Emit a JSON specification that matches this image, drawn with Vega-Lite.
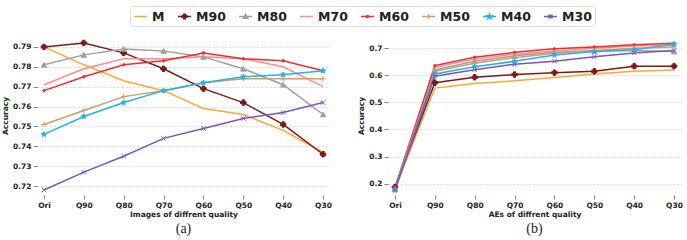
{
  "$schema": "https://vega.github.io/schema/vega-lite/v6.json",
  "padding": {"left": 1, "top": 5, "right": 2, "bottom": 2},
  "spacing": 25,
  "datasets": {
    "imgs": [
      {"q":"Ori","m":"M","acc":0.790},{"q":"Q90","m":"M","acc":0.781},{"q":"Q80","m":"M","acc":0.773},{"q":"Q70","m":"M","acc":0.768},{"q":"Q60","m":"M","acc":0.759},{"q":"Q50","m":"M","acc":0.756},{"q":"Q40","m":"M","acc":0.748},{"q":"Q30","m":"M","acc":0.737},
      {"q":"Ori","m":"M90","acc":0.790},{"q":"Q90","m":"M90","acc":0.792},{"q":"Q80","m":"M90","acc":0.787},{"q":"Q70","m":"M90","acc":0.779},{"q":"Q60","m":"M90","acc":0.769},{"q":"Q50","m":"M90","acc":0.762},{"q":"Q40","m":"M90","acc":0.751},{"q":"Q30","m":"M90","acc":0.736},
      {"q":"Ori","m":"M80","acc":0.781},{"q":"Q90","m":"M80","acc":0.786},{"q":"Q80","m":"M80","acc":0.789},{"q":"Q70","m":"M80","acc":0.788},{"q":"Q60","m":"M80","acc":0.785},{"q":"Q50","m":"M80","acc":0.779},{"q":"Q40","m":"M80","acc":0.771},{"q":"Q30","m":"M80","acc":0.756},
      {"q":"Ori","m":"M70","acc":0.771},{"q":"Q90","m":"M70","acc":0.779},{"q":"Q80","m":"M70","acc":0.784},{"q":"Q70","m":"M70","acc":0.784},{"q":"Q60","m":"M70","acc":0.785},{"q":"Q50","m":"M70","acc":0.784},{"q":"Q40","m":"M70","acc":0.780},{"q":"Q30","m":"M70","acc":0.770},
      {"q":"Ori","m":"M60","acc":0.768},{"q":"Q90","m":"M60","acc":0.775},{"q":"Q80","m":"M60","acc":0.781},{"q":"Q70","m":"M60","acc":0.783},{"q":"Q60","m":"M60","acc":0.787},{"q":"Q50","m":"M60","acc":0.784},{"q":"Q40","m":"M60","acc":0.783},{"q":"Q30","m":"M60","acc":0.778},
      {"q":"Ori","m":"M50","acc":0.751},{"q":"Q90","m":"M50","acc":0.758},{"q":"Q80","m":"M50","acc":0.765},{"q":"Q70","m":"M50","acc":0.768},{"q":"Q60","m":"M50","acc":0.772},{"q":"Q50","m":"M50","acc":0.774},{"q":"Q40","m":"M50","acc":0.774},{"q":"Q30","m":"M50","acc":0.774},
      {"q":"Ori","m":"M40","acc":0.746},{"q":"Q90","m":"M40","acc":0.755},{"q":"Q80","m":"M40","acc":0.762},{"q":"Q70","m":"M40","acc":0.768},{"q":"Q60","m":"M40","acc":0.772},{"q":"Q50","m":"M40","acc":0.775},{"q":"Q40","m":"M40","acc":0.776},{"q":"Q30","m":"M40","acc":0.778},
      {"q":"Ori","m":"M30","acc":0.718},{"q":"Q90","m":"M30","acc":0.727},{"q":"Q80","m":"M30","acc":0.735},{"q":"Q70","m":"M30","acc":0.744},{"q":"Q60","m":"M30","acc":0.749},{"q":"Q50","m":"M30","acc":0.754},{"q":"Q40","m":"M30","acc":0.757},{"q":"Q30","m":"M30","acc":0.762}
    ],
    "aes": [
      {"q":"Ori","m":"M","acc":0.180},{"q":"Q90","m":"M","acc":0.553},{"q":"Q80","m":"M","acc":0.570},{"q":"Q70","m":"M","acc":0.580},{"q":"Q60","m":"M","acc":0.592},{"q":"Q50","m":"M","acc":0.605},{"q":"Q40","m":"M","acc":0.615},{"q":"Q30","m":"M","acc":0.620},
      {"q":"Ori","m":"M90","acc":0.187},{"q":"Q90","m":"M90","acc":0.573},{"q":"Q80","m":"M90","acc":0.593},{"q":"Q70","m":"M90","acc":0.603},{"q":"Q60","m":"M90","acc":0.610},{"q":"Q50","m":"M90","acc":0.615},{"q":"Q40","m":"M90","acc":0.634},{"q":"Q30","m":"M90","acc":0.634},
      {"q":"Ori","m":"M80","acc":0.180},{"q":"Q90","m":"M80","acc":0.620},{"q":"Q80","m":"M80","acc":0.652},{"q":"Q70","m":"M80","acc":0.672},{"q":"Q60","m":"M80","acc":0.685},{"q":"Q50","m":"M80","acc":0.690},{"q":"Q40","m":"M80","acc":0.692},{"q":"Q30","m":"M80","acc":0.688},
      {"q":"Ori","m":"M70","acc":0.185},{"q":"Q90","m":"M70","acc":0.630},{"q":"Q80","m":"M70","acc":0.660},{"q":"Q70","m":"M70","acc":0.678},{"q":"Q60","m":"M70","acc":0.690},{"q":"Q50","m":"M70","acc":0.700},{"q":"Q40","m":"M70","acc":0.708},{"q":"Q30","m":"M70","acc":0.712},
      {"q":"Ori","m":"M60","acc":0.185},{"q":"Q90","m":"M60","acc":0.636},{"q":"Q80","m":"M60","acc":0.667},{"q":"Q70","m":"M60","acc":0.685},{"q":"Q60","m":"M60","acc":0.698},{"q":"Q50","m":"M60","acc":0.705},{"q":"Q40","m":"M60","acc":0.713},{"q":"Q30","m":"M60","acc":0.719},
      {"q":"Ori","m":"M50","acc":0.182},{"q":"Q90","m":"M50","acc":0.615},{"q":"Q80","m":"M50","acc":0.645},{"q":"Q70","m":"M50","acc":0.665},{"q":"Q60","m":"M50","acc":0.682},{"q":"Q50","m":"M50","acc":0.692},{"q":"Q40","m":"M50","acc":0.700},{"q":"Q30","m":"M50","acc":0.705},
      {"q":"Ori","m":"M40","acc":0.175},{"q":"Q90","m":"M40","acc":0.605},{"q":"Q80","m":"M40","acc":0.632},{"q":"Q70","m":"M40","acc":0.652},{"q":"Q60","m":"M40","acc":0.675},{"q":"Q50","m":"M40","acc":0.688},{"q":"Q40","m":"M40","acc":0.695},{"q":"Q30","m":"M40","acc":0.715},
      {"q":"Ori","m":"M30","acc":0.178},{"q":"Q90","m":"M30","acc":0.597},{"q":"Q80","m":"M30","acc":0.621},{"q":"Q70","m":"M30","acc":0.641},{"q":"Q60","m":"M30","acc":0.652},{"q":"Q50","m":"M30","acc":0.669},{"q":"Q40","m":"M30","acc":0.683},{"q":"Q30","m":"M30","acc":0.692}
    ]
  },
  "config": {
    "view": {"stroke": null},
    "axis": {
      "labelFont": "DejaVu Sans", "labelFontWeight": "bold", "labelFontSize": 7.5, "labelColor": "#222",
      "titleFont": "DejaVu Sans", "titleFontWeight": "bold", "titleFontSize": 7.5, "titleColor": "#222",
      "domain": false, "tickColor": "#666", "tickSize": 4, "tickWidth": 0.8, "labelPadding": 2,
      "gridColor": "#cfcfcf", "gridDash": [2, 2], "gridWidth": 0.8
    },
    "title": {"font": "Liberation Serif", "fontSize": 14, "fontWeight": "normal", "color": "#222"}
  },
  "hconcat": [
    {
      "width": 293, "height": 159,
      "data": {"name": "imgs"},
      "title": {"text": "(a)", "orient": "bottom", "frame": "group", "anchor": "middle", "offset": 4},
      "encoding": {
        "x": {"field": "q", "type": "ordinal", "sort": ["Ori","Q90","Q80","Q70","Q60","Q50","Q40","Q30"],
              "scale": {"padding": 0.175},
              "axis": {"title": "Images of diffrent quality", "labelAngle": 0, "titlePadding": 2}},
        "y": {"field": "acc", "type": "quantitative",
              "scale": {"domain": [0.7155, 0.7955], "nice": false, "zero": false},
              "axis": {"title": "Accuracy", "values": [0.72,0.73,0.74,0.75,0.76,0.77,0.78,0.79], "format": ".2f", "titlePadding": 3}}
      },
      "layer": [
        {
          "mark": {"type": "line", "strokeWidth": 1.5},
          "encoding": {
            "color": {"field": "m", "type": "nominal",
              "scale": {"domain": ["M","M90","M80","M70","M60","M50","M40","M30"],
                        "range": ["#FFA536","#7B1A1A","#A0A0A0","#FF8C8C","#F22B2B","#D49A6A","#1EB4EB","#7A55C0"]},
              "legend": {
                "title": null, "orient": "none", "direction": "horizontal", "legendX": 93, "legendY": -30,
                "labelFont": "DejaVu Sans", "labelFontWeight": "bold", "labelFontSize": 12.5, "labelColor": "#222",
                "symbolType": "stroke", "symbolSize": 169, "symbolStrokeWidth": 1.5, "labelOffset": 4,
                "columnPadding": 10, "padding": 3, "strokeColor": "#dddddd", "cornerRadius": 3, "fillColor": "white",
                "encode": {"symbols": {"update": {
                  "shape": {"signal": "datum.value==='M90'?'M-1,0H1M-0.35,-0.13H-0.13V-0.35H0.13V-0.13H0.35V0.13H0.13V0.35H-0.13V0.13H-0.35Z':datum.value==='M80'?'M-1,0H1M0,-0.35L0.35,0.28L-0.35,0.28Z':datum.value==='M60'?'M-1,0H1M-0.15,0A0.15,0.15,0,1,1,0.15,0A0.15,0.15,0,1,1,-0.15,0Z':datum.value==='M50'?'M-1,0H1M0,-0.35V0.35':datum.value==='M40'?'M-1,0H1M0,-0.35L0.082,-0.113L0.333,-0.108L0.133,0.043L0.206,0.283L0,0.14L-0.206,0.283L-0.133,0.043L-0.333,-0.108L-0.082,-0.113Z':datum.value==='M30'?'M-1,0H1M-0.3,-0.3L0.3,0.3M-0.3,0.3L0.3,-0.3':'M-1,0H1'"},
                  "fill": {"signal": "scale('color', datum.value)"}
                }}}
              }}
          }
        },
        {
          "transform": [{"filter": "datum.m !== 'M' && datum.m !== 'M70'"}],
          "mark": {"type": "point", "filled": true, "size": 30, "strokeWidth": 1, "opacity": 1},
          "encoding": {
            "shape": {"field": "m", "type": "nominal", "legend": null,
              "scale": {"domain": ["M90","M80","M60","M50","M40","M30"],
                        "range": ["cross","triangle-up","M-0.45,0A0.45,0.45,0,1,1,0.45,0A0.45,0.45,0,1,1,-0.45,0Z","M-1,0H1M0,-1V1","M0,-1L0.235,-0.324L0.951,-0.309L0.38,0.124L0.588,0.809L0,0.4L-0.588,0.809L-0.38,0.124L-0.951,-0.309L-0.235,-0.324Z","M-0.8,-0.8L0.8,0.8M-0.8,0.8L0.8,-0.8"]}},
            "fill": {"field": "m", "type": "nominal", "legend": null,
              "scale": {"domain": ["M","M90","M80","M70","M60","M50","M40","M30"],
                        "range": ["#FFA536","#7B1A1A","#A0A0A0","#FF8C8C","#F22B2B","#D49A6A","#1EB4EB","#7A55C0"]}},
            "stroke": {"field": "m", "type": "nominal", "legend": null,
              "scale": {"domain": ["M","M90","M80","M70","M60","M50","M40","M30"],
                        "range": ["#FFA536","#7B1A1A","#A0A0A0","#FF8C8C","#F22B2B","#D49A6A","#1EB4EB","#7A55C0"]}}
          }
        }
      ]
    },
    {
      "width": 293, "height": 159,
      "data": {"name": "aes"},
      "title": {"text": "(b)", "orient": "bottom", "frame": "group", "anchor": "middle", "offset": 4},
      "encoding": {
        "x": {"field": "q", "type": "ordinal", "sort": ["Ori","Q90","Q80","Q70","Q60","Q50","Q40","Q30"],
              "scale": {"padding": 0.175},
              "axis": {"title": "AEs of diffrent quality", "labelAngle": 0, "titlePadding": 2}},
        "y": {"field": "acc", "type": "quantitative",
              "scale": {"domain": [0.158, 0.7454], "nice": false, "zero": false},
              "axis": {"title": "Accuracy", "values": [0.2,0.3,0.4,0.5,0.6,0.7], "format": ".1f", "titlePadding": 3}}
      },
      "layer": [
        {
          "mark": {"type": "line", "strokeWidth": 1.5},
          "encoding": {
            "color": {"field": "m", "type": "nominal",
              "scale": {"domain": ["M","M90","M80","M70","M60","M50","M40","M30"],
                        "range": ["#FFA536","#7B1A1A","#A0A0A0","#FF8C8C","#F22B2B","#D49A6A","#1EB4EB","#7A55C0"]}}
          }
        },
        {
          "transform": [{"filter": "datum.m !== 'M' && datum.m !== 'M70'"}],
          "mark": {"type": "point", "filled": true, "size": 30, "strokeWidth": 1, "opacity": 1},
          "encoding": {
            "shape": {"field": "m", "type": "nominal", "legend": null,
              "scale": {"domain": ["M90","M80","M60","M50","M40","M30"],
                        "range": ["cross","triangle-up","M-0.45,0A0.45,0.45,0,1,1,0.45,0A0.45,0.45,0,1,1,-0.45,0Z","M-1,0H1M0,-1V1","M0,-1L0.235,-0.324L0.951,-0.309L0.38,0.124L0.588,0.809L0,0.4L-0.588,0.809L-0.38,0.124L-0.951,-0.309L-0.235,-0.324Z","M-0.8,-0.8L0.8,0.8M-0.8,0.8L0.8,-0.8"]}},
            "fill": {"field": "m", "type": "nominal", "legend": null,
              "scale": {"domain": ["M","M90","M80","M70","M60","M50","M40","M30"],
                        "range": ["#FFA536","#7B1A1A","#A0A0A0","#FF8C8C","#F22B2B","#D49A6A","#1EB4EB","#7A55C0"]}},
            "stroke": {"field": "m", "type": "nominal", "legend": null,
              "scale": {"domain": ["M","M90","M80","M70","M60","M50","M40","M30"],
                        "range": ["#FFA536","#7B1A1A","#A0A0A0","#FF8C8C","#F22B2B","#D49A6A","#1EB4EB","#7A55C0"]}}
          }
        }
      ]
    }
  ]
}
